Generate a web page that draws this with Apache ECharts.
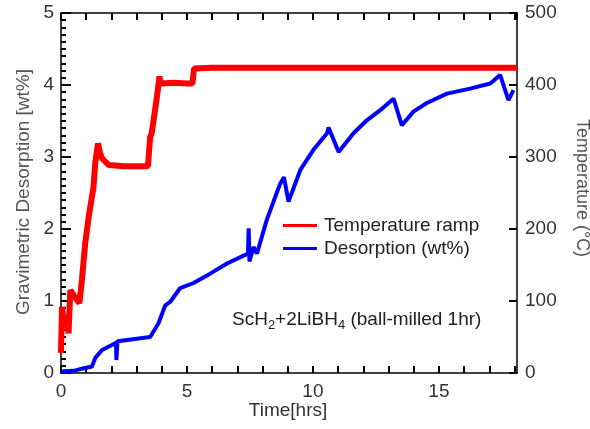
<!DOCTYPE html>
<html>
<head>
<meta charset="utf-8">
<script src="https://cdn.jsdelivr.net/npm/echarts@6/dist/echarts.min.js"></script>
<style>
  html, body { margin: 0; padding: 0; background: #fff; }
  #chart { width: 590px; height: 429px; }
</style>
</head>
<body>
<div id="chart"></div>
<script>
// temperature ramp (right axis, °C)
const tempTime = [0, 0.04, 0.12, 0.2, 0.3, 0.37, 0.5, 0.73, 0.83, 0.96, 1.1, 1.29, 1.36, 1.47, 1.55, 1.63, 1.89, 2.5, 3.0, 3.45, 3.54, 3.6, 3.81, 3.91, 3.95, 4.5, 5.0, 5.22, 5.28, 6, 10, 14, 18.1];
const tempValue = [28, 92, 65, 80, 55, 115, 108, 97, 129, 180, 217, 258, 292, 319, 305, 298, 289, 287, 287, 287, 328, 333, 384, 412, 402, 403, 402, 402, 423, 424, 424, 424, 424];

// desorption (left axis, wt%)
const desTime = [0, 0.5, 0.83, 1.23, 1.36, 1.63, 2.02, 2.18, 2.2, 2.24, 2.29, 3.08, 3.54, 3.87, 4.14, 4.34, 4.73, 5.26, 5.92, 6.59, 7.31, 7.42, 7.45, 7.48, 7.64, 7.78, 8.17, 8.7, 8.85, 9.03, 9.5, 10.02, 10.56, 10.62, 11.02, 11.61, 12.14, 12.67, 13.2, 13.53, 13.99, 14.52, 15.32, 16.24, 17.04, 17.43, 17.76, 17.96];
const desValue = [0.02, 0.03, 0.06, 0.09, 0.21, 0.32, 0.39, 0.42, 0.18, 0.44, 0.46, 0.48, 0.5, 0.69, 0.94, 0.99, 1.18, 1.25, 1.38, 1.52, 1.64, 1.66, 2.01, 1.55, 1.75, 1.66, 2.13, 2.63, 2.72, 2.38, 2.82, 3.1, 3.33, 3.41, 3.07, 3.33, 3.51, 3.65, 3.81, 3.44, 3.63, 3.75, 3.88, 3.95, 4.02, 4.14, 3.79, 3.93];

const xMax = 18.1;
const font = 'Liberation Sans, Arial, sans-serif';
const textColor = '#333';

const chart = echarts.init(document.getElementById('chart'));

// one x axis per side, a tick every hour, labels only every 5 h
function xAxisDef(position, showLabel) {
    return {
        type: 'value',
        position: position,
        min: 0,
        max: xMax,
        interval: 1,
        axisLine: { show: true, onZero: false, lineStyle: { color: '#000', width: 1.5 } },
        axisTick: { show: true, inside: true, length: 7, lineStyle: { color: '#000', width: 2 } },
        axisLabel: {
            show: showLabel,
            showMaxLabel: false,
            margin: 9,
            fontSize: 19,
            fontFamily: font,
            color: textColor,
            formatter: function (v) { return v % 5 === 0 ? String(v) : ''; },
        },
        splitLine: { show: false },
    };
}

const option = {
    animation: false,
    backgroundColor: '#fff',
    grid: { left: 61, right: 73, top: 13, bottom: 56 },
    xAxis: [xAxisDef('bottom', true), xAxisDef('top', false)],
    yAxis: [
        {
            type: 'value',
            position: 'left',
            min: 0,
            max: 5,
            interval: 1,
            axisLine: { show: true, onZero: false, lineStyle: { color: '#000', width: 1.5 } },
            axisTick: { show: true, inside: true, length: 10, lineStyle: { color: '#000', width: 2 } },
            minorTick: { show: true, splitNumber: 10, length: 5, lineStyle: { color: '#000', width: 2 } },
            axisLabel: { margin: 7, fontSize: 19, fontFamily: font, color: textColor },
            splitLine: { show: false },
        },
        {
            type: 'value',
            position: 'right',
            min: 0,
            max: 500,
            interval: 100,
            axisLine: { show: true, onZero: false, lineStyle: { color: '#000', width: 1.5 } },
            axisTick: { show: true, inside: true, length: 8, lineStyle: { color: '#000', width: 2 } },
            axisLabel: { margin: 8, fontSize: 19, fontFamily: font, color: textColor },
            splitLine: { show: false },
        },
    ],
    legend: {
        orient: 'vertical',
        left: 278,
        top: 211,
        itemGap: 4,
        itemWidth: 34,
        itemHeight: 3,
        icon: 'rect',
        textStyle: { fontSize: 19, fontFamily: font, color: '#222', padding: [0, 0, 0, 2] },
        data: ['Temperature ramp', 'Desorption (wt%)'],
    },
    series: [
        {
            name: 'Temperature ramp',
            type: 'line',
            xAxisIndex: 0,
            yAxisIndex: 1,
            showSymbol: false,
            color: '#ff0000',
            lineStyle: { color: '#ff0000', width: 6 },
            data: tempTime.map((t, i) => [t, tempValue[i]]),
            z: 3,
        },
        {
            name: 'Desorption (wt%)',
            type: 'line',
            xAxisIndex: 0,
            yAxisIndex: 0,
            showSymbol: false,
            color: '#0000ff',
            lineStyle: { color: '#0000ff', width: 4 },
            data: desTime.map((t, i) => [t, desValue[i]]),
            z: 4,
        },
    ],
    graphic: [
        {
            type: 'text',
            x: 24,
            y: 192,
            rotation: Math.PI / 2,
            style: {
                text: 'Gravimetric Desorption [wt%]',
                font: '19px ' + font,
                fill: '#555',
                align: 'center',
                verticalAlign: 'middle',
            },
        },
        {
            type: 'text',
            x: 582,
            y: 188,
            rotation: -Math.PI / 2,
            style: {
                text: 'Temperature (°C)',
                font: '18px ' + font,
                fill: '#555',
                align: 'center',
                verticalAlign: 'middle',
            },
        },
        {
            type: 'text',
            x: 288,
            y: 411,
            style: {
                text: 'Time[hrs]',
                font: '19px ' + font,
                fill: textColor,
                align: 'center',
                verticalAlign: 'middle',
            },
        },
        {
            type: 'text',
            x: 232,
            y: 320,
            style: {
                text: 'ScH{sub|2}+2LiBH{sub|4} (ball-milled 1hr)',
                font: '19px ' + font,
                fill: '#222',
                verticalAlign: 'middle',
                rich: {
                    sub: { fontSize: 13, fontFamily: font, fill: '#222', padding: [11, 0, 0, 0] },
                },
            },
        },
    ],
};

chart.setOption(option);
</script>
</body>
</html>
